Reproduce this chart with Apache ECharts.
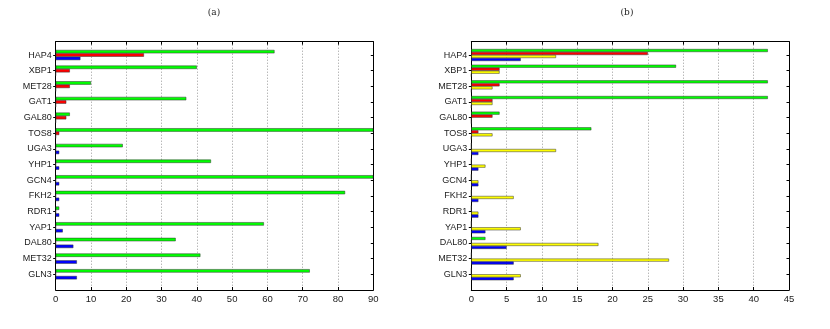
<!DOCTYPE html>
<html>
<head>
<meta charset="utf-8">
<script src="https://cdn.jsdelivr.net/npm/echarts@6/dist/echarts.min.js"></script>
<style>
  html, body { margin: 0; padding: 0; background: #fff; }
  #chart { width: 830px; height: 329px; }
</style>
</head>
<body>
<div id="chart"></div>
<script>
// 类别（自上而下）
const categories = ['HAP4', 'XBP1', 'MET28', 'GAT1', 'GAL80', 'TOS8', 'UGA3', 'YHP1',
  'GCN4', 'FKH2', 'RDR1', 'YAP1', 'DAL80', 'MET32', 'GLN3'];

// (a) 面板
const aGreen = [62, 40, 10, 37, 4, 90, 19, 44, 90, 82, 1, 59, 34, 41, 72];
const aRed   = [25, 4, 4, 3, 3, 1, 0, 0, 0, 0, 0, 0, 0, 0, 0];
const aBlue  = [7, 0, 0, 0, 0, 0, 1, 1, 1, 1, 1, 2, 5, 6, 6];
const aTicks = { min: 0, max: 90, interval: 10 };

// (b) 面板
const bGreen  = [42, 29, 42, 42, 4, 17, 0, 0, 0, 0, 0, 0, 2, 0, 0];
const bRed    = [25, 4, 4, 3, 3, 1, 0, 0, 0, 0, 0, 0, 0, 0, 0];
const bYellow = [12, 4, 3, 3, 0, 3, 12, 2, 1, 6, 1, 7, 18, 28, 7];
const bBlue   = [7, 0, 0, 0, 0, 0, 1, 1, 1, 1, 1, 2, 5, 6, 6];
const bTicks = { min: 0, max: 45, interval: 5 };

const myChart = echarts.init(document.getElementById('chart'));

const FONT = 'Liberation Sans';
const frameTop = 41.7, frameBottom = 329 - 290;
const barsTop = 47.2, barsHeight = 234.9;

// 外框网格的坐标轴
function frameX(grid, t, pos) {
  return {
    gridIndex: grid, type: 'value', position: pos,
    min: t.min, max: t.max, interval: t.interval,
    axisLine: { show: true, onZero: false, lineStyle: { color: '#000', width: 1 } },
    axisTick: { show: true, inside: true, length: 3, lineStyle: { color: '#000' } },
    axisLabel: {
      show: pos === 'bottom', margin: 4, fontFamily: FONT, fontSize: 9.5, color: '#222'
    },
    splitLine: {
      show: pos === 'bottom',
      lineStyle: { color: '#999', type: [1, 2], width: 1 }
    }
  };
}
function frameY(grid, pos) {
  return {
    gridIndex: grid, type: 'value', position: pos, min: 0, max: 1,
    axisLine: { show: true, onZero: false, lineStyle: { color: '#000', width: 1 } },
    axisTick: { show: false }, axisLabel: { show: false }, splitLine: { show: false }
  };
}
function barsX(grid, t) {
  return { gridIndex: grid, type: 'value', min: t.min, max: t.max, show: false };
}
function barsY(grid, pos) {
  return {
    gridIndex: grid, type: 'category', data: categories, inverse: true, position: pos,
    axisLine: { show: false, onZero: false },
    axisTick: {
      show: true, alignWithLabel: true, inside: pos === 'right', length: 2.5,
      lineStyle: { color: '#000' }
    },
    axisLabel: {
      show: pos === 'left', margin: 4, fontFamily: FONT, fontSize: 9, color: '#222'
    },
    splitLine: { show: false }
  };
}
function bar(name, data, color, xi, yi, w) {
  return {
    name: name, type: 'bar', data: data, xAxisIndex: xi, yAxisIndex: yi,
    barWidth: w, barGap: '0%', silent: true,
    itemStyle: { color: color, borderColor: '#333', borderWidth: 0.5 }
  };
}

const titleStyle = { fontFamily: 'DejaVu Serif', fontSize: 9, fontWeight: 'normal', color: '#222' };

const option = {
  animation: false,
  backgroundColor: '#fff',
  title: [
    { text: '(a)', left: 209, top: 3, textAlign: 'center', textStyle: titleStyle },
    { text: '(b)', left: 622, top: 3, textAlign: 'center', textStyle: titleStyle }
  ],
  grid: [
    { left: 55.7, right: 830 - 373.3, top: frameTop, bottom: frameBottom },
    { left: 55.7, right: 830 - 373.3, top: barsTop, height: barsHeight },
    { left: 471.3, right: 830 - 789, top: frameTop, bottom: frameBottom },
    { left: 471.3, right: 830 - 789, top: barsTop, height: barsHeight }
  ],
  xAxis: [
    frameX(0, aTicks, 'bottom'), frameX(0, aTicks, 'top'), barsX(1, aTicks),
    frameX(2, bTicks, 'bottom'), frameX(2, bTicks, 'top'), barsX(3, bTicks)
  ],
  yAxis: [
    frameY(0, 'left'), frameY(0, 'right'), barsY(1, 'left'), barsY(1, 'right'),
    frameY(2, 'left'), frameY(2, 'right'), barsY(3, 'left'), barsY(3, 'right')
  ],
  series: [
    bar('a-green', aGreen, '#00ff00', 2, 2, 3.4),
    bar('a-red', aRed, '#ff0000', 2, 2, 3.4),
    bar('a-blue', aBlue, '#0000ff', 2, 2, 3.4),
    bar('b-green', bGreen, '#00ff00', 5, 6, 3.0),
    bar('b-red', bRed, '#ff0000', 5, 6, 3.0),
    bar('b-yellow', bYellow, '#ffff00', 5, 6, 3.0),
    bar('b-blue', bBlue, '#0000ff', 5, 6, 3.0)
  ]
};

myChart.setOption(option);
</script>
</body>
</html>
